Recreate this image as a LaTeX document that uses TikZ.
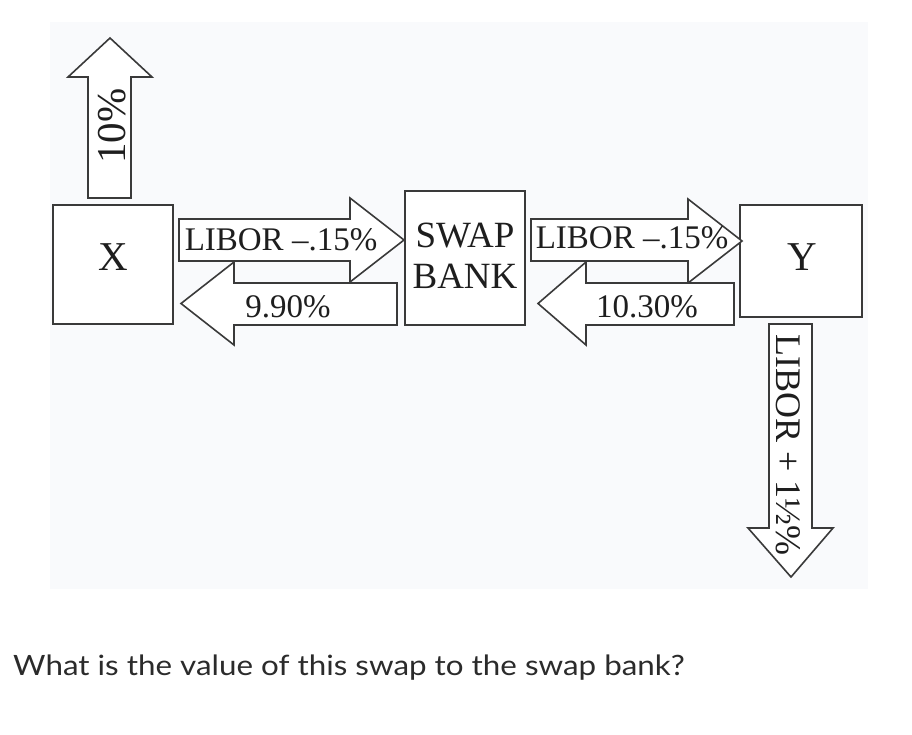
\documentclass[tikz,border=0pt]{standalone}
\usepackage{fontspec}
\setmainfont{Liberation Serif}
\newfontfamily\qfont[FakeStretch=1.12]{Lato}
\usetikzlibrary{positioning}
\definecolor{cBack}{HTML}{F9FAFC}
\definecolor{cLine}{HTML}{3A3A3A}
\definecolor{cText}{HTML}{1E1E1E}
\definecolor{cQuest}{HTML}{2B2B2B}

\begin{document}
\begin{tikzpicture}[
  x=1pt, y=-1pt,
  font=\fontsize{33}{36}\selectfont,
  box/.style   ={draw=cLine, line width=1.7pt, fill=white, inner sep=0pt},
  barrow/.style={draw=cLine, line width=1.6pt, fill=white, line join=miter},
  lbl/.style   ={inner sep=0pt, anchor=base, text=cText},
  big/.style   ={font=\fontsize{41}{44}\selectfont},
  mid/.style   ={font=\fontsize{37}{40}\selectfont},
]
\useasboundingbox (0,0) rectangle (912,734);
\fill[cBack] (50,22) rectangle (868,589);

% ---------------------------------------------------------------- boxes
\node[box, minimum width=120pt, minimum height=119pt] (X)    at (113,264.5) {};
\node[box, minimum width=120pt, minimum height=134pt] (bank) at (465,258)   {};
\node[box, minimum width=122pt, minimum height=112pt] (Y)    at (801,261)   {};

\node[lbl, big] (tX)    at (113,270) {X};
\node[lbl, mid] (tswap) at (465,247) {SWAP};
\node[lbl, mid] (tbank) at (465,288) {BANK};
\node[lbl, big] (tY)    at (802,270) {Y};

% ---------------------------------------------------------------- X <-> bank
\draw[barrow] (179,219) -- (350,219) -- (350,198) -- (404,240)
  -- (350,282) -- (350,261) -- (179,261) -- cycle;
\draw[barrow] (397,283) -- (234,283) -- (234,262) -- (181,303.5)
  -- (234,345) -- (234,325) -- (397,325) -- cycle;
\node[lbl] (lx1) at (281,250) {LIBOR --.15\%};
\node[lbl] (lx2) at (288,317) {9.90\%};

% ---------------------------------------------------------------- bank <-> Y
\draw[barrow] (531,219) -- (688,219) -- (688,199) -- (742,241)
  -- (688,283) -- (688,261) -- (531,261) -- cycle;
\draw[barrow] (734,283) -- (586,283) -- (586,262) -- (538,303.5)
  -- (586,345) -- (586,325) -- (734,325) -- cycle;
\node[lbl] (ly1) at (632,248) {LIBOR --.15\%};
\node[lbl] (ly2) at (647,317) {10.30\%};

% ---------------------------------------------------------------- outside rates
\draw[barrow] (88,198) -- (88,77) -- (68,77) -- (110,38)
  -- (152,77) -- (131,77) -- (131,198) -- cycle;
\node[lbl, big, rotate=90] (lout) at (125,126) {10\%};

\draw[barrow] (769,324) -- (769,528) -- (748,528) -- (791,577)
  -- (833,528) -- (812,528) -- (812,324) -- cycle;
\node[lbl, font=\fontsize{36}{40}\selectfont, rotate=-90] (lin) at (776,445) {LIBOR + 1½\%};

% ---------------------------------------------------------------- question
\node[inner sep=0pt, anchor=base west, text=cQuest, font=\qfont\fontsize{28}{32}\selectfont] (quest)
  at (13,675) {What is the value of this swap to the swap bank?};

\end{tikzpicture}
\end{document}
